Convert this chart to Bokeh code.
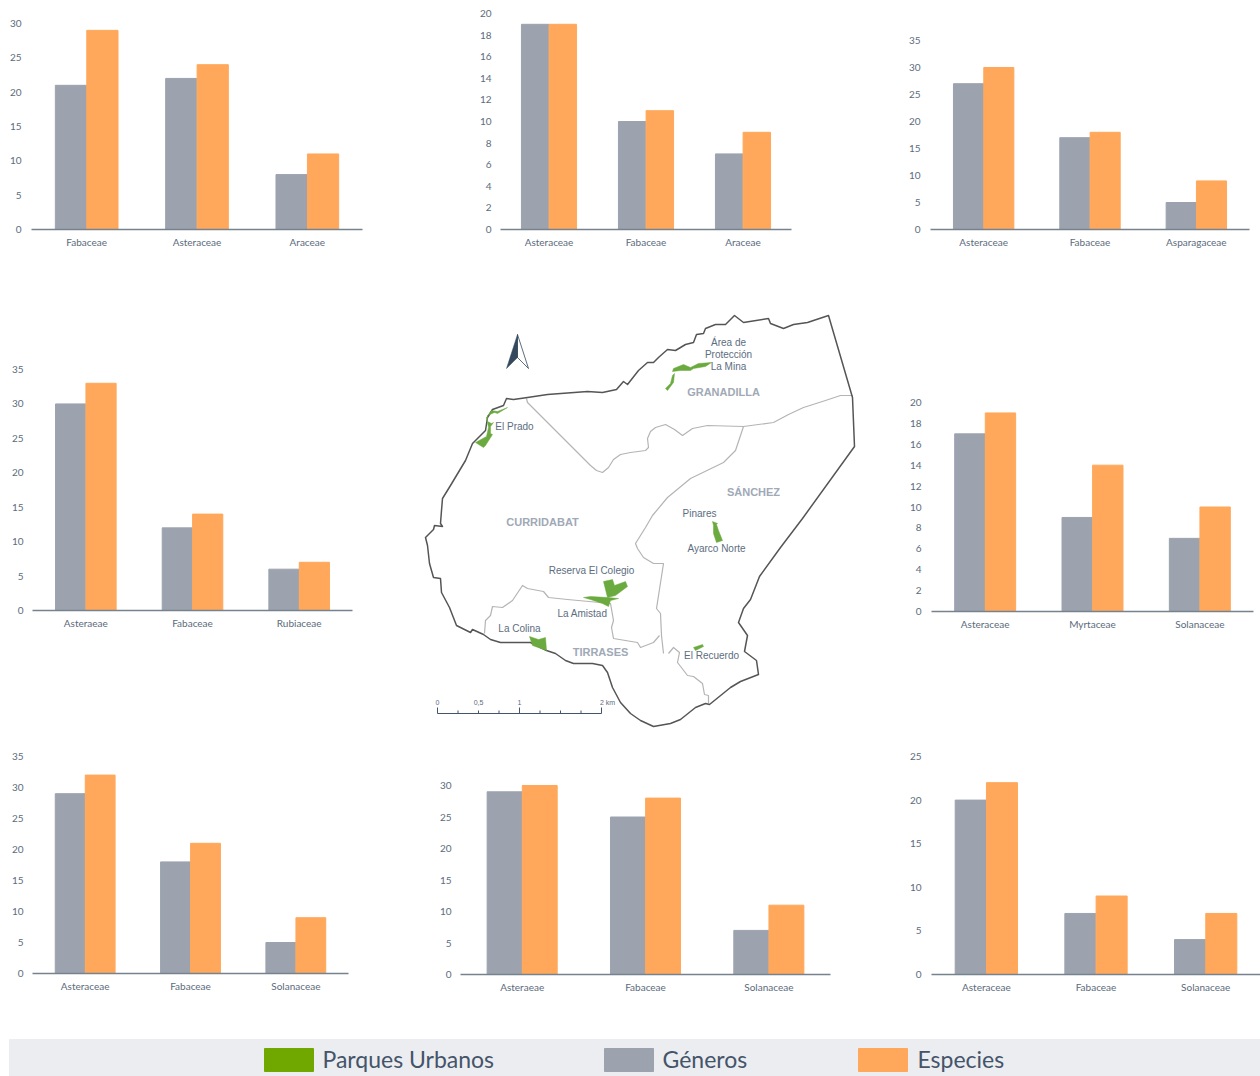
from bokeh.plotting import figure
from bokeh.layouts import column, row
from bokeh.models import FactorRange, Range1d, FixedTicker, Spacer, ColumnDataSource
from bokeh.transform import dodge
from bokeh.core.properties import value
from bokeh.embed import file_html
from bokeh.resources import INLINE

GRAY = "#9ca3ae"
ORANGE = "#ffa85b"
TICK = "#5b6b7c"
AXIS = "#76838f"
LABEL = "#5d6d80"
REGION = "#a0a9b6"
PARK = "#6aaa3e"

# ---- bar chart data
c1_cats = ["Fabaceae", "Asteraceae", "Araceae"]
c1_gen = [21, 22, 8]
c1_esp = [29, 24, 11]
c2_cats = ["Asteraceae", "Fabaceae", "Araceae"]
c2_gen = [19, 10, 7]
c2_esp = [19, 11, 9]
c3_cats = ["Asteraceae", "Fabaceae", "Asparagaceae"]
c3_gen = [27, 17, 5]
c3_esp = [30, 18, 9]
c4_cats = ["Asteraeae", "Fabaceae", "Rubiaceae"]
c4_gen = [30, 12, 6]
c4_esp = [33, 14, 7]
c5_cats = ["Asteraceae", "Myrtaceae", "Solanaceae"]
c5_gen = [17, 9, 7]
c5_esp = [19, 14, 10]
c6_cats = ["Asteraceae", "Fabaceae", "Solanaceae"]
c6_gen = [29, 18, 5]
c6_esp = [32, 21, 9]
c7_cats = ["Asteraeae", "Fabaceae", "Solanaceae"]
c7_gen = [29, 25, 7]
c7_esp = [30, 28, 11]
c8_cats = ["Asteraceae", "Fabaceae", "Solanaceae"]
c8_gen = [20, 7, 4]
c8_esp = [22, 9, 7]

# ---- legend
legend_names = ["Parques Urbanos", "Géneros", "Especies"]
legend_colors = ["#70a800", GRAY, ORANGE]

# ---- map traces
outline = [(441,510),(440,523),(442,526),(434,525),(433,529),(425,537),(427,545),(429,563),(433,577),(440,578),
 (441,592),(449,607),(456,625),(470,632),(472,629),(483,634),(490,639),(500,642),(530,642),(546,650),(555,653),
 (565,660),(573,663),(592,663),(602,665),(607,672),(612,687),(620,702),(630,713),(640,720),(653,726),(670,723),
 (680,719),(695,707),(705,703),(709,704),(730,687),(740,681),(758,674),(756,660),(744,651),(747,635),(738,622),
 (743,608),(750,599),(759,576),(780,547),(802,518),(854,446),(852,397),(828,315),(807,322),(793,324),(783,328),
 (770,323),(768,318),(743,322),(734,315),(725,324),(715,324),(705,328),(703,333),(696,334),(693,342),(685,344),
 (675,350),(667,349),(658,357),(653,362),(647,362),(638,370),(627,384),(623,381),(616,389),(602,392),(587,391),
 (547,394),(527,397),(513,399),(506,398),(503,405),(492,409),(487,417),(485,430),(472,443),(465,460),(450,485),
 (442,498),(441,510)]
line_a = [(526,398),(527,402),(563,438),(590,465),(596,470),(602,472),(608,467),(613,459),(620,454),(630,452),(645,450),
 (648,447),(647,438),(650,431),(655,427),(665,424),(674,429),(682,435),(692,428),(707,425),(743,426),(773,422),(788,414),
 (803,407),(825,400),(840,395),(852,395)]
line_b = [(743,426),(739,438),(735,450),(723,462),(690,478),(667,497),(652,515),(645,527),(635,543),(637,548),(643,557),
 (653,563),(663,563),(656,608),(660,613),(661,635),(663,653)]
line_c = [(659,635),(653,642),(640,647),(637,642),(613,638),(611,627),(613,620),(610,603),(567,599),(548,597),
 (543,591),(527,588),(522,585),(512,600),(502,607),(492,606),(490,615),(485,620),(484,633)]
line_d = [(668,653),(673,647),(679,652),(677,662),(687,675),(693,676),(702,683),(704,694),(708,695),(708,703)]
parks = [
 [(507,407),(497,413),(494,412),(487,415),(487,421),(491,423),(493,422),(490,426),(490,433),(492,434),(485,445),(483,447),(475,442),(486,436),(488,427),(486,417),(491,410),(497,411)],
 [(711,362),(698,363),(690,367),(683,364),(673,368),(672,371),(680,370),(690,370),(693,368),(705,366)],
 [(674,373),(672,375),(670,383),(665,388),(667,390),(673,382)],
 [(712,521),(713,525),(713,533),(716,542),(722,540),(718,530),(716,524),(717,523)],
 [(693,647),(702,644),(703,646),(695,650)],
 [(603,581),(612,579),(614,585),(625,581),(627,586),(615,595),(607,597)],
 [(583,597),(590,596),(607,597),(618,598),(610,600),(608,606),(602,603),(590,599)],
 [(529,636),(538,639),(545,637),(546,650),(532,645)],
]
map_labels = ["Área de", "Protección", "La Mina", "El Prado", "Pinares", "Ayarco Norte", "Reserva El Colegio",
              "La Amistad", "La Colina", "El Recuerdo"]
map_label_x = [728, 728, 728, 514, 699, 716, 591, 582, 519, 711]
map_label_y = [342, 354, 366, 426, 513, 548, 570, 613, 628, 655]
region_labels = ["GRANADILLA", "CURRIDABAT", "SÁNCHEZ", "TIRRASES"]
region_x = [723, 542, 753, 600]
region_y = [391, 521, 491, 651]
scale_labels = ["0", "0,5", "1", "2 km"]
scale_x = [437, 478, 519, 607]
north_fill = [(517,334),(506,368),(517,357)]
north_line = [(517,334),(528,368),(517,357),(517,334)]
scale_major = [437, 519, 601]
scale_minor = [457.5, 478, 498.5, 539.5, 560, 580.5]


def chart(cats, gen, esp, top_tick, step, x0, x1, label_y, base_y, out_l, out_r, row_t, row_b, standoff):
    unit = (base_y - label_y) / top_tick
    p = figure(width=out_r - out_l, height=row_b - row_t, x_range=FactorRange(*cats, range_padding=0),
               y_range=Range1d(0, (base_y - row_t) / unit), output_backend="svg", toolbar_location=None,
               min_border_left=x0 - out_l, min_border_right=out_r - x1, min_border_top=0,
               min_border_bottom=row_b - base_y, outline_line_color=None, background_fill_color=None,
               border_fill_color=None)
    src = ColumnDataSource(dict(cat=cats, gen=gen, esp=esp))
    p.vbar(x=dodge("cat", -0.1425, range=p.x_range), top="gen", width=0.283, bottom=0, source=src, color=GRAY)
    p.vbar(x=dodge("cat", 0.1425, range=p.x_range), top="esp", width=0.283, bottom=0, source=src, color=ORANGE)
    p.grid.visible = False
    ya = p.yaxis[0]
    ya.ticker = FixedTicker(ticks=list(range(0, top_tick + 1, step)))
    ya.axis_line_color = None
    ya.major_tick_line_color = None
    ya.minor_tick_line_color = None
    ya.major_tick_out = 0
    ya.major_tick_in = 0
    ya.major_label_standoff = standoff
    ya.major_label_text_font = "Lato"
    ya.major_label_text_font_size = "10px"
    ya.major_label_text_color = TICK
    xa = p.xaxis[0]
    xa.axis_line_color = AXIS
    xa.axis_line_width = 1.5
    xa.major_tick_line_color = None
    xa.minor_tick_line_color = None
    xa.major_tick_out = 0
    xa.major_tick_in = 0
    xa.major_label_standoff = 6
    xa.major_label_text_font = "Lato"
    xa.major_label_text_font_size = "10px"
    xa.major_label_text_color = TICK
    return column(p, spacing=0)


R1T, R1B = 0, 262
R2T, R2B = 262, 735
R3T, R3B = 735, 1030
R4T, R4B = 1030, 1076

f1 = chart(c1_cats, c1_gen, c1_esp, 30, 5, 31, 362, 23, 229, 0, 380, R1T, R1B, 10)
f2 = chart(c2_cats, c2_gen, c2_esp, 20, 2, 500, 791, 13, 229, 470, 810, R1T, R1B, 9)
f3 = chart(c3_cats, c3_gen, c3_esp, 35, 5, 930, 1249, 40, 229, 905, 1260, R1T, R1B, 10)
f4 = chart(c4_cats, c4_gen, c4_esp, 35, 5, 32, 352, 369, 610, 0, 380, R2T, R2B, 9)
f5 = chart(c5_cats, c5_gen, c5_esp, 20, 2, 931, 1253, 402, 611, 905, 1260, R2T, R2B, 10)
f6 = chart(c6_cats, c6_gen, c6_esp, 35, 5, 32, 348, 756, 973, 0, 380, R3T, R3B, 9)
f7 = chart(c7_cats, c7_gen, c7_esp, 30, 5, 460, 830, 785, 974, 430, 850, R3T, R3B, 9)
f8 = chart(c8_cats, c8_gen, c8_esp, 25, 5, 931, 1260, 756, 974, 905, 1260, R3T, R3B, 10)


def canvas(l, r, t, b):
    p = figure(width=r - l, height=b - t, x_range=Range1d(l, r), y_range=Range1d(b, t), output_backend="svg",
               toolbar_location=None, min_border=0, outline_line_color=None, background_fill_color=None,
               border_fill_color=None)
    p.axis.visible = False
    p.grid.visible = False
    return p


def xs(pts):
    return [a for a, _ in pts]


def ys(pts):
    return [b for _, b in pts]


m = canvas(400, 880, R2T, R2B)
for ln in (line_a, line_b, line_c, line_d):
    m.line(xs(ln), ys(ln), line_color="#b4b4b4", line_width=1.2, line_join="round")
m.line(xs(outline), ys(outline), line_color="#555555", line_width=1.5, line_join="round")
for pk in parks:
    m.patch(xs(pk), ys(pk), fill_color=PARK, line_color=PARK, line_width=0.5)
m.text(map_label_x, map_label_y, text=map_labels, text_font=value("Liberation Sans"), text_font_size="10px",
       text_color=LABEL, text_align="center", text_baseline="middle")
m.text(region_x, region_y, text=region_labels, text_font=value("Liberation Sans"), text_font_size="11px",
       text_font_style="bold", text_color=REGION, text_align="center", text_baseline="middle")
m.text(scale_x, [702] * 4, text=scale_labels, text_font=value("Liberation Sans"), text_font_size="7px",
       text_color=LABEL, text_align="center", text_baseline="middle")
m.line([scale_major[0], scale_major[-1]], [713, 713], line_color="#44546a", line_width=1)
m.segment(scale_major, [707] * 3, scale_major, [713] * 3, line_color="#44546a", line_width=1)
m.segment(scale_minor, [710] * 6, scale_minor, [713] * 6, line_color="#44546a", line_width=1)
m.patch(xs(north_fill), ys(north_fill), fill_color="#34495e", line_color="#34495e", line_width=0.5)
m.line(xs(north_line), ys(north_line), line_color="#34495e", line_width=0.8)

leg = canvas(0, 1260, R4T, R4B)
leg.quad(left=[9], right=[1260], top=[1039], bottom=[1076], color="#ecedf0")
swatch_l = [264, 604, 858]
text_l = [322, 662, 917]
leg.quad(left=swatch_l, right=[v + 49 for v in swatch_l], top=[1048] * 3, bottom=[1071] * 3, color=legend_colors)
leg.text(text_l, [1058] * 3, text=legend_names, text_font=value("Lato"), text_font_size="23px", text_color="#44546a",
         text_baseline="middle")

page = column(
    row(f1, Spacer(width=90), f2, Spacer(width=95), f3, spacing=0),
    row(f4, Spacer(width=20), column(m, spacing=0), Spacer(width=25), f5, spacing=0),
    row(f6, Spacer(width=50), f7, Spacer(width=55), f8, spacing=0),
    leg, spacing=0)
open("out.html", "w").write(file_html(page, INLINE))
